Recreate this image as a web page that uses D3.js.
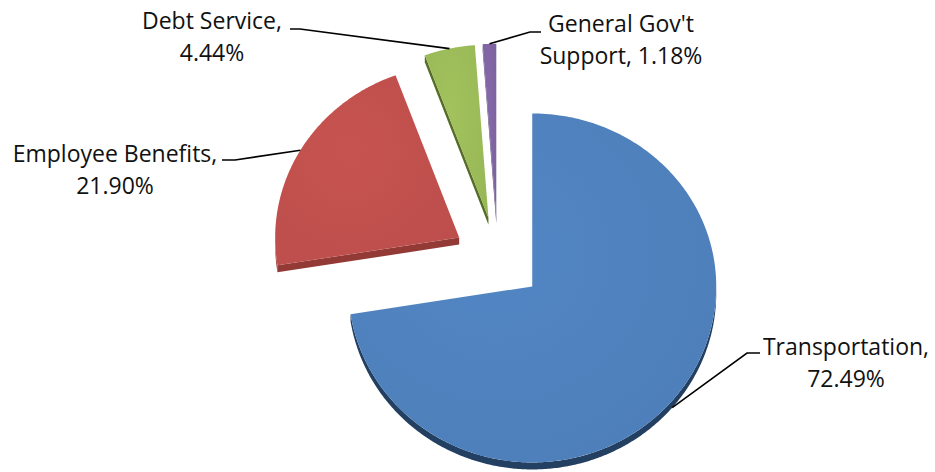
<!DOCTYPE html>
<html><head><meta charset="utf-8">
<script src="https://cdn.jsdelivr.net/npm/d3@7"></script>
<style>body{margin:0;background:#fff}svg{display:block}</style>
</head><body>
<script>
// ---- data ----
const categories = ["Transportation", "Employee Benefits", "Debt Service", "General Gov't Support"];
const values = [72.49, 21.90, 4.44, 1.18];
const labelLines = [["Transportation,", "72.49%"], ["Employee Benefits,", "21.90%"], ["Debt Service,", "4.44%"], ["General Gov't", "Support, 1.18%"]];
const topColors = ["#4f81bd", "#c0504d", "#9bbb59", "#8064a2"];
const sideColors = ["#233f62", "#943a36", "#566d27", "#4e3b6b"];

const W = 935, H = 472;
const cx = 498, cy = 259, rx = 184, ryTop = 173, ryBot = 176, explode = 45, thick = 7;
const k = ryTop / rx;

const svg = d3.select("body").append("svg").attr("width", W).attr("height", H);
const defs = svg.append("defs");
topColors.forEach((c, i) => {
  const g = defs.append("radialGradient").attr("id", "g" + i).attr("cx", "40%").attr("cy", "40%").attr("r", "75%");
  g.append("stop").attr("offset", "0%").attr("stop-color", d3.color(c).brighter(0.1));
  g.append("stop").attr("offset", "100%").attr("stop-color", d3.color(c).darker(0.06));
});

const pie = d3.pie().sort(null).startAngle(0).endAngle(2 * Math.PI);
const arcs = pie(values);

function center(d) {
  const m = (d.startAngle + d.endAngle) / 2;
  return [cx + explode * Math.sin(m), cy - explode * k * Math.cos(m)];
}
function pt(c, a, dy = 0) {
  const ry = Math.cos(a) >= 0 ? ryTop : ryBot;
  return [c[0] + rx * Math.sin(a), c[1] - ry * Math.cos(a) + dy];
}
function arcPts(c, a0, a1, dy = 0) {
  const n = Math.max(2, Math.ceil(Math.abs(a1 - a0) / 0.01));
  return d3.range(n + 1).map(i => pt(c, a0 + (a1 - a0) * i / n, dy));
}
const line = d3.line();

const g = svg.append("g");
arcs.forEach((d, i) => {
  const c = center(d);
  const a0 = d.startAngle, a1 = d.endAngle;
  const side = g.append("g");
  const lo = Math.max(a0, Math.PI / 2), hi = Math.min(a1, 3 * Math.PI / 2);
  if (hi > lo) {
    const pts = arcPts(c, lo, hi).concat(arcPts(c, hi, lo, thick));
    side.append("path").attr("d", line(pts) + "Z").attr("fill", sideColors[i]);
  }
  if (Math.sin(a0) < -1e-6) {
    const P = pt(c, a0);
    side.append("path").attr("d", line([c, P, [P[0], P[1] + thick], [c[0], c[1] + thick]]) + "Z").attr("fill", sideColors[i]);
  }
  if (Math.sin(a1) > 1e-6) {
    const P = pt(c, a1);
    side.append("path").attr("d", line([c, P, [P[0], P[1] + thick], [c[0], c[1] + thick]]) + "Z").attr("fill", sideColors[i]);
  }
  const top = [c].concat(arcPts(c, a0, a1));
  g.append("path").attr("d", line(top) + "Z").attr("fill", "url(#g" + i + ")");
});

const labelPos = [
  { x: 846, y: 355, elbow: [[760, 353], [747, 353]], dy: thick },
  { x: 115, y: 162, elbow: [[222, 160], [235, 160]], dy: 0 },
  { x: 212, y: 29, elbow: [[290, 29], [300, 29]], dy: 0 },
  { x: 621, y: 32, elbow: [[541, 32], [530, 32]], dy: 0 }
];
arcs.forEach((d, i) => {
  const c = center(d);
  const m = (d.startAngle + d.endAngle) / 2;
  const P = pt(c, m, labelPos[i].dy);
  const L = labelPos[i];
  svg.append("path").attr("d", line([L.elbow[0], L.elbow[1], P])).attr("fill", "none")
    .attr("stroke", "#000").attr("stroke-width", 1.6);
  const t = svg.append("text").attr("text-anchor", "middle")
    .attr("font-family", "'Open Sans', sans-serif").attr("font-size", 23).attr("fill", "#111");
  labelLines[i].forEach((s, j) => {
    t.append("tspan").attr("x", L.x).attr("y", L.y + j * 32).text(s);
  });
});
</script>
</body></html>
